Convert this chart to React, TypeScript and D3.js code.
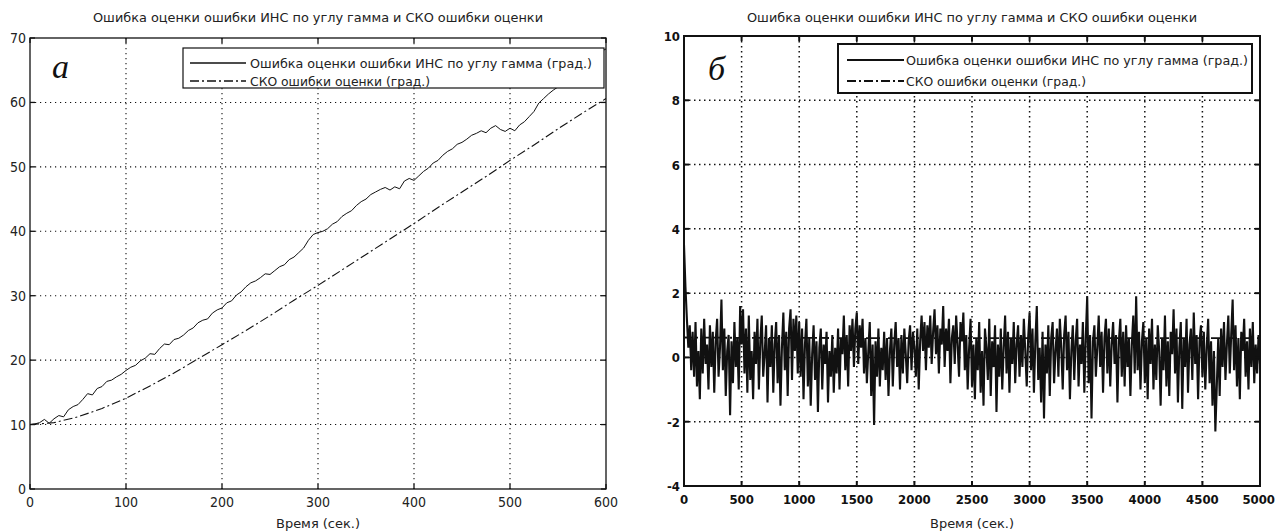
import React from 'react';
import * as d3 from 'd3';

// ---------- DATA ----------
const TITLE = 'Ошибка оценки ошибки ИНС по углу гамма и СКО ошибки оценки';
const LEGEND_SOLID = 'Ошибка оценки ошибки ИНС по углу гамма (град.)';
const LEGEND_CKO = 'СКО ошибки оценки (град.)';
const X_LABEL = 'Время (сек.)';

const aXTicks = [0, 100, 200, 300, 400, 500, 600];
const aYTicks = [0, 10, 20, 30, 40, 50, 60, 70];
const bXTicks = [0, 500, 1000, 1500, 2000, 2500, 3000, 3500, 4000, 4500, 5000];
const bYTicks = [-4, -2, 0, 2, 4, 6, 8, 10];

// panel a: estimation error, sampled every 5 s from 0 to 600 s
const aSolidStep = 5;
const aSolid = [
  10.0, 10.1, 10.3, 10.8, 10.2, 10.9, 11.4, 11.2, 12.3, 12.8,
  13.1, 13.9, 14.8, 14.6, 15.6, 15.9, 16.7, 16.9, 17.4, 17.8,
  18.4, 18.9, 19.2, 19.9, 20.3, 21.0, 20.9, 21.8, 22.5, 22.4,
  23.2, 23.4, 23.9, 24.6, 25.0, 25.8, 26.2, 26.4, 27.3, 27.8,
  28.1, 28.9, 29.2, 30.1, 30.6, 31.4, 32.0, 32.3, 32.8, 33.4,
  33.3, 33.9, 34.5, 34.8, 35.6, 36.0, 36.7, 37.4, 38.6, 39.5,
  39.8, 40.0, 40.4, 41.1, 41.5, 42.3, 42.8, 43.2, 44.0, 44.6,
  45.0, 45.7, 46.1, 46.5, 46.8, 46.4, 46.9, 46.6, 47.8, 48.2,
  47.9, 48.6, 49.3, 49.8, 50.6, 51.0, 51.8, 52.4, 52.8, 53.5,
  53.8, 54.3, 54.9, 55.2, 55.6, 55.3, 56.0, 56.4, 55.8, 55.5,
  56.0, 55.6, 56.5, 57.0, 57.8, 58.6, 59.9, 60.6, 61.3, 61.9,
  62.4, 63.0, 63.6, 64.2, 64.9, 65.5, 66.2, 66.8, 67.5, 67.9,
  68.3,
];
// panel a: RMS of the estimation error, every 25 s
const aCkoStep = 25;
const aCko = [
  10.0, 10.3, 11.2, 12.5, 14.1, 16.0, 18.0, 20.2, 22.4, 24.6,
  26.9, 29.3, 31.6, 34.0, 36.4, 38.8, 41.2, 43.7, 46.1, 48.5,
  51.0, 53.4, 55.9, 58.3, 60.6,
];

// panel b: estimation error, every 12.5 s from 0 to 5000 s
const bSolidStep = 12.5;
const bSolid = [
  3.5, 2.2, 1.2, 0.3, 1.0, -0.4, 0.8, -0.6, 1.1, -0.9, 0.2, -1.3, 0.9, -0.5, 1.2, -0.2, 0.4, -1.0, 1.0, -0.3,
  0.8, -1.1, 0.5, 1.2, -0.6, 0.3, 1.8, -0.4, 0.9, -1.2, 0.2, 0.7, -1.8, 0.5, -0.8, 1.1, -0.3, 0.6, -1.0, 1.6,
  0.4, 1.5, -0.5, 0.9, -1.1, 1.3, -0.7, 0.2, -1.3, 0.8, -0.2, 1.2, -1.0, 0.5, 1.3, -0.6, 0.1, 1.0, -1.4, 0.6,
  -0.3, 1.0, -1.1, 0.4, 1.1, -0.8, 0.7, -1.5, 0.3, 1.4, -0.4, 0.8, -1.2, 0.9, 1.5, -0.7, 1.2, 0.2, 1.3, -0.5,
  1.1, -0.6, 0.9, -1.3, 0.4, 1.2, -0.9, 0.6, -1.5, 0.1, 1.0, -0.7, 0.5, -1.7, 0.3, 0.9, -1.0, 0.4, -0.2, 0.8,
  -1.4, 0.2, -0.6, 0.7, -1.1, 0.3, -0.5, 0.9, -1.0, 0.6, 0.1, 1.3, -0.4, 0.7, -0.9, 1.0, 0.2, 1.2, -0.3, 0.9,
  1.4, -0.2, 1.0, 0.3, 1.2, -0.5, 0.6, -0.8, 0.2, 1.1, -1.2, 0.4, -2.1, 0.5, -0.6, 0.9, -0.9, 0.3, -0.4, 0.8,
  -0.7, 0.6, -1.2, 0.2, 0.9, -0.9, 0.4, 1.1, -0.3, 0.6, -1.0, 0.7, -0.5, 0.9, 0.1, -0.8, 0.5, 1.0, -0.4, 0.8,
  0.3, -0.6, 0.9, -1.0, 0.5, 1.3, 0.2, 1.1, -0.4, 1.0, 0.3, 1.3, -0.2, 0.8, 1.5, 0.1, 1.0, -0.5, 0.9, 0.4,
  1.6, -0.3, 0.9, 0.2, 1.2, -0.8, 0.6, 1.0, -0.2, 1.3, 0.4, -0.6, 1.1, 0.5, 1.4, -0.4, 0.7, -1.0, 0.3, 1.2,
  -0.9, 0.4, -1.3, 0.6, -0.4, 1.1, -1.1, 0.2, -1.5, 0.9, 0.3, -0.7, 1.2, -1.2, 0.5, -0.3, 1.0, -1.7, 0.4, -0.6,
  0.9, -1.0, 0.3, 1.3, -0.5, 0.8, -1.1, 0.6, -0.2, 1.1, -0.8, 0.4, 1.0, -0.6, 0.7, -0.3, 1.2, 0.2, -0.9, 0.6,
  1.4, -0.4, 0.9, -1.1, 0.5, 1.6, -0.7, 0.3, -1.4, 0.8, -1.9, 0.4, -0.5, 1.0, -1.2, 0.6, 1.1, -0.8, 0.2, 0.9,
  -0.6, 1.2, 0.3, -1.0, 0.7, 1.3, -0.4, 0.8, -1.3, 0.2, 1.0, -0.7, 0.5, 1.2, -0.9, 0.4, -0.2, 1.1, -1.1, 0.6,
  1.9, -0.8, 0.7, -1.9, 0.5, 1.0, -0.6, 0.3, 1.3, -0.3, 0.8, -1.1, 0.6, 1.2, -0.5, 0.9, -0.9, 0.4, 1.1, -0.2,
  0.7, -1.4, 0.5, 1.2, -0.6, 0.8, -0.9, 1.0, -0.3, 0.6, -1.2, 0.4, 1.3, -0.5, 1.9, -0.4, 0.8, -1.0, 0.5, 1.1,
  -0.8, 0.6, -1.3, 0.9, -0.2, 1.2, -1.0, 0.4, -0.7, 1.0, 0.2, -1.5, 0.6, -0.4, 1.3, -0.9, 0.5, -1.2, 0.8, 0.1,
  1.5, -0.5, 0.9, -1.4, 0.3, 1.1, -1.6, 0.6, -0.3, 1.2, -1.1, 0.4, 0.9, -0.7, 1.4, -0.2, 0.7, -1.3, 0.5, 1.0,
  -0.6, 0.8, -1.0, 0.3, 1.2, -0.8, 0.5, -1.5, 0.2, -2.3, -0.9, 0.6, -1.2, 0.9, -0.3, 1.1, -0.7, 0.4, 1.3, -0.5,
  0.7, 1.8, -0.4, 1.0, -0.9, 0.6, -1.3, 0.8, 0.2, 1.2, -0.6, 0.5, -1.0, 0.9, -0.3, 1.1, -0.8, 0.4, -0.5, 0.7,
  -0.2,
];
// panel b: RMS of the estimation error, every 500 s
const bCkoStep = 500;
const bCko = [0.62, 0.61, 0.61, 0.6, 0.6, 0.6, 0.6, 0.6, 0.6, 0.6, 0.6];

const FONT = "'DejaVu Sans Condensed', 'Liberation Sans Narrow', sans-serif";
const SERIF = "'Liberation Serif', 'DejaVu Serif', serif";

type PanelProps = {
  id: string;
  left: number; right: number; top: number; bottom: number;
  xDomain: [number, number]; yDomain: [number, number];
  xTicks: number[]; yTicks: number[];
  solid: number[]; solidStep: number;
  cko: number[]; ckoStep: number;
  bold: boolean;
  letter: string; letterX: number; letterY: number;
  legend: { x0: number; x1: number; y0: number; y1: number; r1: number; r2: number; l0: number; l1: number; tx: number };
};

function Panel(p: PanelProps) {
  const xs = d3.scaleLinear().domain(p.xDomain).range([p.left, p.right]);
  const ys = d3.scaleLinear().domain(p.yDomain).range([p.bottom, p.top]);
  const line = (step: number) =>
    d3.line<number>().x((_, i) => xs(i * step)).y((d) => ys(d));
  const axisW = p.bold ? 2 : 1.3;
  const gridW = p.bold ? 1.5 : 1.1;
  const gridDash = p.bold ? '1.5,3.5' : '1.2,3.8';
  const tickLen = 5;
  const cx = (p.left + p.right) / 2;
  const textFill = p.bold ? '#111' : '#222';
  const tickFont = p.bold ? 13 : 14;
  const lg = p.legend;
  return (
    <g>
      <defs>
        <clipPath id={`clip-${p.id}`}>
          <rect x={p.left} y={p.top} width={p.right - p.left} height={p.bottom - p.top} />
        </clipPath>
      </defs>
      {/* grid */}
      {p.xTicks.filter((t) => t !== p.xDomain[0] && t !== p.xDomain[1]).map((t) => (
        <line key={`gx${t}`} x1={xs(t)} x2={xs(t)} y1={p.top} y2={p.bottom}
          stroke="#111" strokeWidth={gridW} strokeDasharray={gridDash} />
      ))}
      {p.yTicks.filter((t) => t !== p.yDomain[0] && t !== p.yDomain[1]).map((t) => (
        <line key={`gy${t}`} y1={ys(t)} y2={ys(t)} x1={p.left} x2={p.right}
          stroke="#111" strokeWidth={gridW} strokeDasharray={gridDash} />
      ))}
      {/* data */}
      <g clipPath={`url(#clip-${p.id})`}>
        <path d={line(p.ckoStep)(p.cko) || ''} fill="none" stroke="#111"
          strokeWidth={p.bold ? 1.8 : 1.1} strokeDasharray="9,3,2,3" />
        <path d={line(p.solidStep)(p.solid) || ''} fill="none" stroke="#111"
          strokeWidth={p.bold ? 2.1 : 1.0} strokeLinejoin="miter" />
      </g>
      {/* axes box */}
      <rect x={p.left} y={p.top} width={p.right - p.left} height={p.bottom - p.top}
        fill="none" stroke="#111" strokeWidth={axisW} />
      {/* ticks */}
      {p.xTicks.map((t, i) => {
        const last = i === p.xTicks.length - 1 && p.bold;
        return (
          <g key={`tx${t}`}>
            <line x1={xs(t)} x2={xs(t)} y1={p.bottom} y2={p.bottom - tickLen} stroke="#111" strokeWidth={axisW} />
            <line x1={xs(t)} x2={xs(t)} y1={p.top} y2={p.top + tickLen} stroke="#111" strokeWidth={axisW} />
            <text x={last ? 1275 : xs(t)} y={p.bottom + 18} textAnchor={last ? 'end' : 'middle'} fontFamily={FONT}
              fontSize={tickFont} fontWeight={p.bold ? 'bold' : 'normal'} fill={textFill}>{t}</text>
          </g>
        );
      })}
      {p.yTicks.map((t) => (
        <g key={`ty${t}`}>
          <line x1={p.left} x2={p.left + tickLen} y1={ys(t)} y2={ys(t)} stroke="#111" strokeWidth={axisW} />
          <line x1={p.right} x2={p.right - tickLen} y1={ys(t)} y2={ys(t)} stroke="#111" strokeWidth={axisW} />
          <text x={p.left - 4} y={ys(t) + 5} textAnchor="end" fontFamily={FONT}
            fontSize={tickFont} fontWeight={p.bold ? 'bold' : 'normal'} fill={textFill}>{t}</text>
        </g>
      ))}
      {/* title */}
      <text x={cx} y={22} textAnchor="middle" fontFamily={FONT} fontSize={13} fill="#222"
        textLength={450} lengthAdjust="spacingAndGlyphs">{TITLE}</text>
      {/* x label */}
      <text x={cx} y={528} textAnchor="middle" fontFamily={FONT} fontSize={13} fill="#222"
        textLength={84} lengthAdjust="spacingAndGlyphs">{X_LABEL}</text>
      {/* legend */}
      <rect x={lg.x0} y={lg.y0} width={lg.x1 - lg.x0} height={lg.y1 - lg.y0} fill="#fff"
        stroke="#111" strokeWidth={p.bold ? 2 : 1.2} />
      <line x1={lg.l0} x2={lg.l1} y1={lg.r1} y2={lg.r1} stroke="#111" strokeWidth={p.bold ? 2 : 1.3} />
      <line x1={lg.l0} x2={lg.l1} y1={lg.r2} y2={lg.r2} stroke="#111" strokeWidth={p.bold ? 2 : 1.3}
        strokeDasharray="9,3,2,3" />
      <text x={lg.tx} y={lg.r1 + 5} fontFamily={FONT} fontSize={13} fill="#222"
        textLength={342} lengthAdjust="spacingAndGlyphs">{LEGEND_SOLID}</text>
      <text x={lg.tx} y={lg.r2 + 5} fontFamily={FONT} fontSize={13} fill="#222"
        textLength={180} lengthAdjust="spacingAndGlyphs">{LEGEND_CKO}</text>
      {/* panel letter */}
      <text x={p.letterX} y={p.letterY} fontFamily={SERIF} fontStyle="italic" fontSize={34} fill="#111">{p.letter}</text>
    </g>
  );
}

export default function App() {
  return (
    <svg width={1276} height={532} style={{ position: 'absolute', left: 0, top: 0, background: '#fff' }}>
      <rect x={0} y={0} width={1276} height={532} fill="#fff" />
      <Panel id="a" left={30} right={606} top={38} bottom={489}
        xDomain={[0, 600]} yDomain={[0, 70]} xTicks={aXTicks} yTicks={aYTicks}
        solid={aSolid} solidStep={aSolidStep} cko={aCko} ckoStep={aCkoStep}
        bold={false} letter="а" letterX={52} letterY={78}
        legend={{ x0: 183, x1: 604, y0: 48, y1: 88, r1: 63, r2: 81, l0: 190, l1: 246, tx: 250 }} />
      <Panel id="b" left={684} right={1260} top={36} bottom={486}
        xDomain={[0, 5000]} yDomain={[-4, 10]} xTicks={bXTicks} yTicks={bYTicks}
        solid={bSolid} solidStep={bSolidStep} cko={bCko} ckoStep={bCkoStep}
        bold={true} letter="б" letterX={708} letterY={80}
        legend={{ x0: 838, x1: 1252, y0: 44, y1: 93, r1: 60, r2: 81, l0: 847, l1: 904, tx: 906 }} />
    </svg>
  );
}
